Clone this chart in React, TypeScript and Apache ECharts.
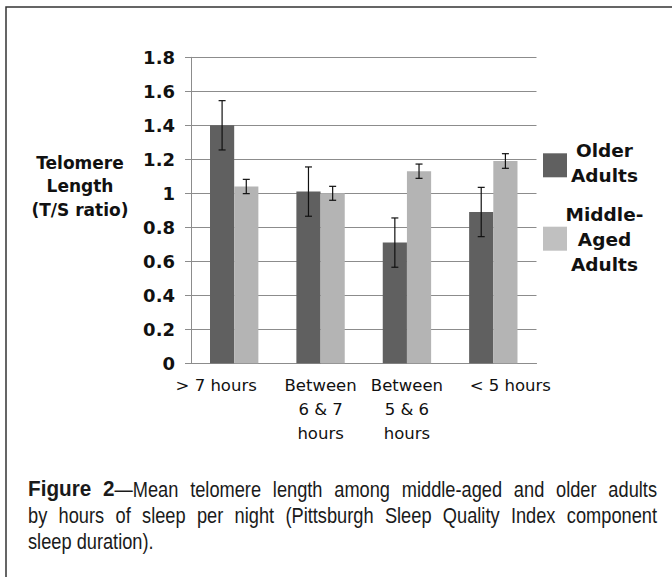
import React, { useEffect, useRef } from "react";
import * as echarts from "echarts";

const categories = ["> 7 hours", "Between\n6 & 7\nhours", "Between\n5 & 6\nhours", "< 5 hours"];
const seriesNames = ["Older Adults", "Middle-Aged Adults"];
const olderValues = [1.40, 1.01, 0.71, 0.89];
const olderErrors = [0.145, 0.145, 0.145, 0.145];
const middleValues = [1.04, 1.00, 1.13, 1.19];
const middleErrors = [0.042, 0.041, 0.042, 0.043];
const yTicks = { min: 0, max: 1.8, interval: 0.2 };
const yTitle = "Telomere\nLength\n(T/S ratio)";
const legendLabels = ["Older\nAdults", "Middle-\nAged\nAdults"];
const captionLines: { t: string; b: boolean }[][][] = [
  [
    [{ t: "Figure", b: true }],
    [{ t: "2", b: true }, { t: "\u2014Mean", b: false }],
    ...("telomere length among middle-aged and older adults".split(" ").map((w) => [{ t: w, b: false }])),
  ],
  "by hours of sleep per night (Pittsburgh Sleep Quality Index component".split(" ").map((w) => [{ t: w, b: false }]),
  "sleep duration).".split(" ").map((w) => [{ t: w, b: false }]),
];

const DARK = "#606060";
const LIGHT = "#b4b4b4";
const GRID = "#8c8c8c";
const BAR_GAP = 0.44;
const CAP_FONT = '"Liberation Sans", Arial, sans-serif';
const CAP_SIZE = 22.5;
const CAP_SCALE = 0.81;
const CAP_SCALE_BOLD = 0.92;

function measure(text: string, bold: boolean): number {
  const c = document.createElement("canvas").getContext("2d");
  if (!c) return text.length * CAP_SIZE * 0.4;
  c.font = `${bold ? "bold " : ""}${CAP_SIZE}px ${CAP_FONT}`;
  return c.measureText(text).width * (bold ? CAP_SCALE_BOLD : CAP_SCALE);
}

function captionGraphics(): any[] {
  const out: any[] = [];
  const x0 = 28;
  const x1 = 657;
  const ys = [488.5, 514.5, 540.5];
  captionLines.forEach((tokens, li) => {
    const widths = tokens.map((tok) => tok.reduce((s, p) => s + measure(p.t, p.b), 0));
    const total = widths.reduce((a, b) => a + b, 0);
    const justify = li < captionLines.length - 1;
    const gap = justify ? (x1 - x0 - total) / (tokens.length - 1) : measure(" ", false);
    let x = x0;
    tokens.forEach((tok, ti) => {
      let px = x;
      tok.forEach((p) => {
        out.push({
          type: "text",
          x: px,
          y: ys[li],
          scaleX: p.b ? CAP_SCALE_BOLD : CAP_SCALE,
          style: {
            text: p.t,
            fill: "#1a1a1a",
            font: `${p.b ? "bold " : ""}${CAP_SIZE}px ${CAP_FONT}`,
            textAlign: "left",
            textVerticalAlign: "middle",
          },
        });
        px += measure(p.t, p.b);
      });
      x += widths[ti] + gap;
    });
  });
  return out;
}

export default function App() {
  const ref = useRef<HTMLDivElement>(null);
  useEffect(() => {
    if (!ref.current) return;
    const chart = echarts.init(ref.current, null, { renderer: "svg" });
    const errData: number[][] = [];
    olderValues.forEach((v, i) => errData.push([i, v, olderErrors[i], 0]));
    middleValues.forEach((v, i) => errData.push([i, v, middleErrors[i], 1]));

    const option: any = {
      animation: false,
      backgroundColor: "#ffffff",
      grid: { left: 191, right: 135.5, top: 57.3, bottom: 213.7, containLabel: false },
      xAxis: {
        type: "category",
        data: categories,
        axisLine: { lineStyle: { color: GRID, width: 1 } },
        axisTick: { show: false },
        axisLabel: {
          interval: 0,
          margin: 10.5,
          color: "#111",
          fontFamily: "DejaVu Sans",
          fontSize: 16.5,
          lineHeight: 24,
          formatter: (v: string, i: number) => {
            if (i === 0) return `{l|${v}}`;
            if (i === categories.length - 1) return `{r|${v}}`;
            return v;
          },
          rich: {
            l: { fontFamily: "DejaVu Sans", fontSize: 16.5, color: "#111", lineHeight: 24, padding: [0, 36, 0, 0] },
            r: { fontFamily: "DejaVu Sans", fontSize: 16.5, color: "#111", lineHeight: 24, padding: [0, 0, 0, 34] },
          },
        },
      },
      yAxis: {
        type: "value",
        min: yTicks.min,
        max: yTicks.max,
        interval: yTicks.interval,
        axisLine: { show: true, lineStyle: { color: GRID, width: 1 } },
        axisTick: { show: true, length: 6, lineStyle: { color: GRID } },
        splitLine: { lineStyle: { color: GRID, width: 1 } },
        axisLabel: {
          margin: 16,
          color: "#111",
          fontFamily: "DejaVu Sans",
          fontWeight: "bold",
          fontSize: 18,
          formatter: (v: number) => String(Math.round(v * 10) / 10),
        },
      },
      series: [
        {
          name: seriesNames[0],
          type: "bar",
          data: olderValues,
          barGap: "0%",
          barCategoryGap: `${BAR_GAP * 100}%`,
          itemStyle: { color: DARK },
        },
        {
          name: seriesNames[1],
          type: "bar",
          data: middleValues,
          barGap: "0%",
          barCategoryGap: `${BAR_GAP * 100}%`,
          itemStyle: { color: LIGHT },
        },
        {
          type: "custom",
          data: errData,
          z: 10,
          renderItem: (params: any, api: any) => {
            const cat = api.value(0);
            const val = api.value(1);
            const err = api.value(2);
            const s = api.value(3);
            const bandW = api.size([1, 0])[0];
            const barW = (bandW * (1 - BAR_GAP)) / 2;
            const cx = api.coord([cat, 0])[0] + (s === 0 ? -barW / 2 : barW / 2);
            const top = api.coord([cat, val + err])[1];
            const bot = api.coord([cat, val - err])[1];
            const hw = 3.5;
            const st = { stroke: "#111", lineWidth: 1.2 };
            return {
              type: "group",
              children: [
                { type: "line", shape: { x1: cx, y1: top, x2: cx, y2: bot }, style: st },
                { type: "line", shape: { x1: cx - hw, y1: top, x2: cx + hw, y2: top }, style: st },
                { type: "line", shape: { x1: cx - hw, y1: bot, x2: cx + hw, y2: bot }, style: st },
              ],
            };
          },
        },
      ],
      graphic: [
        {
          type: "rect",
          shape: { x: 6, y: 7, width: 700, height: 620 },
          style: { fill: "none", stroke: "#333", lineWidth: 1.5 },
          silent: true,
        },
        {
          type: "text",
          x: 80,
          y: 186,
          style: {
            text: yTitle,
            fill: "#111",
            font: "bold 17px DejaVu Sans",
            lineHeight: 23.5,
            textAlign: "center",
            textVerticalAlign: "middle",
          },
        },
        { type: "rect", shape: { x: 543, y: 153.3, width: 24, height: 24 }, style: { fill: DARK } },
        { type: "rect", shape: { x: 543, y: 226.7, width: 24, height: 24 }, style: { fill: "#c0c0c0" } },
        {
          type: "text",
          x: 604.5,
          y: 163,
          style: {
            text: legendLabels[0],
            fill: "#111",
            font: "bold 18.5px DejaVu Sans",
            lineHeight: 24.5,
            textAlign: "center",
            textVerticalAlign: "middle",
          },
        },
        {
          type: "text",
          x: 604.5,
          y: 239.5,
          style: {
            text: legendLabels[1],
            fill: "#111",
            font: "bold 18.5px DejaVu Sans",
            lineHeight: 25,
            textAlign: "center",
            textVerticalAlign: "middle",
          },
        },
        ...captionGraphics(),
      ],
    };
    chart.setOption(option);
    return () => chart.dispose();
  }, []);
  return (
    <div
      ref={ref}
      style={{ position: "fixed", left: 0, top: 0, width: 672, height: 577, background: "#fff" }}
    />
  );
}
